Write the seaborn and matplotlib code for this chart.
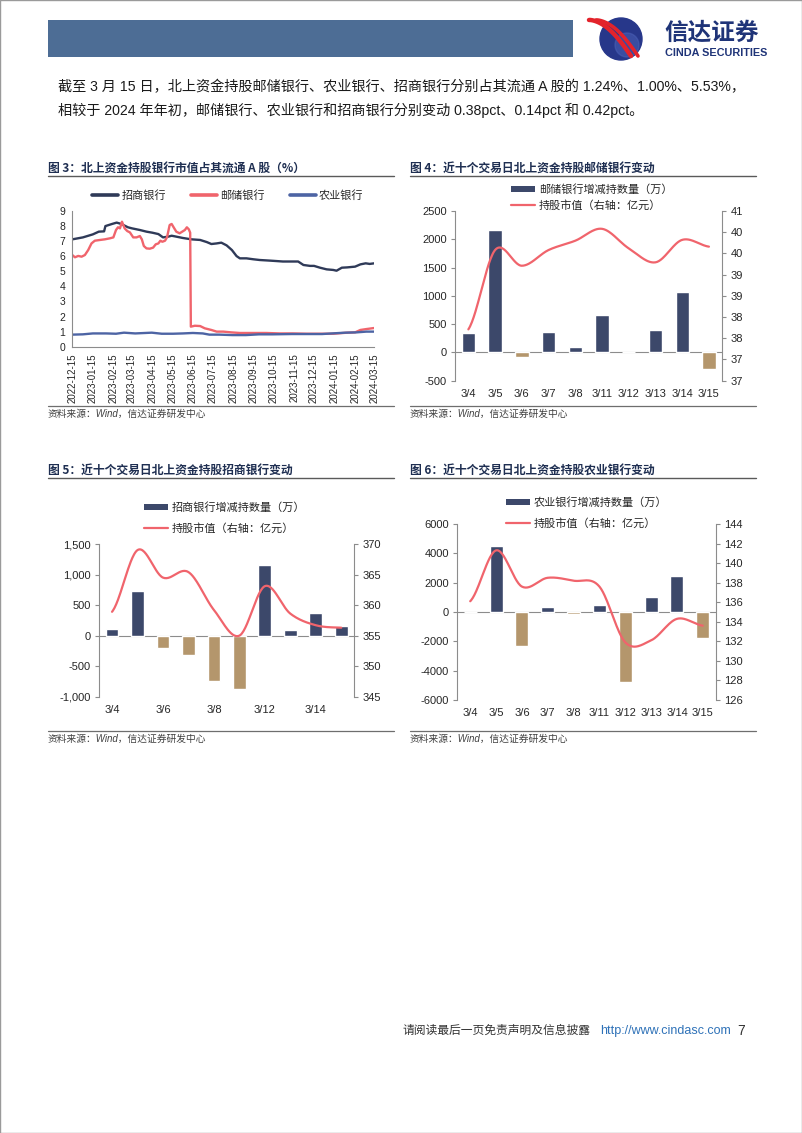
import numpy as np
import pandas as pd
import matplotlib
matplotlib.use("Agg")
import matplotlib.pyplot as plt
from matplotlib.patches import Rectangle, Circle, Patch
from matplotlib.lines import Line2D
import seaborn as sns

sns.set_style("white")
plt.rcParams['font.family'] = ['Liberation Sans', 'Noto Sans CJK SC']
plt.rcParams['axes.unicode_minus'] = False

# ---- 图3 数据：北上资金持股占流通A股比例(%) ----
cmb_dates = ['2022-12-15', '2022-12-31', '2023-01-15', '2023-01-24', '2023-02-01', '2023-02-03', '2023-02-13',
             '2023-02-20', '2023-02-27', '2023-03-09', '2023-03-15', '2023-03-27', '2023-04-06', '2023-04-15',
             '2023-04-24', '2023-05-01', '2023-05-09', '2023-05-14', '2023-05-21', '2023-05-31', '2023-06-13',
             '2023-06-26', '2023-07-06', '2023-07-13', '2023-07-21', '2023-07-28', '2023-08-05', '2023-08-13',
             '2023-08-20', '2023-08-25', '2023-09-04', '2023-09-14', '2023-09-24', '2023-10-09', '2023-10-16',
             '2023-10-29', '2023-11-13', '2023-11-21', '2023-11-29', '2023-12-09', '2023-12-15', '2023-12-24',
             '2024-01-03', '2024-01-13', '2024-01-18', '2024-01-26', '2024-02-03', '2024-02-15', '2024-02-23',
             '2024-03-02', '2024-03-08', '2024-03-15']
cmb_share = [7.12, 7.25, 7.45, 7.63, 7.65, 8.0, 8.14, 8.23, 8.14, 7.92, 7.85, 7.74, 7.63, 7.56, 7.47, 7.25, 7.3,
             7.36, 7.3, 7.21, 7.12, 7.08, 6.94, 6.81, 6.85, 6.9, 6.72, 6.41, 6.01, 5.86, 5.86, 5.8, 5.75, 5.71,
             5.69, 5.65, 5.65, 5.65, 5.42, 5.36, 5.36, 5.24, 5.13, 5.09, 5.04, 5.24, 5.26, 5.31, 5.46, 5.53,
             5.49, 5.53]

psbc_dates = ['2022-12-15', '2022-12-19', '2022-12-24', '2022-12-29', '2023-01-03', '2023-01-08', '2023-01-13',
              '2023-01-18', '2023-01-26', '2023-02-02', '2023-02-10', '2023-02-15', '2023-02-19', '2023-02-22',
              '2023-02-25', '2023-02-28', '2023-03-04', '2023-03-08', '2023-03-12', '2023-03-17', '2023-03-22',
              '2023-03-27', '2023-03-30', '2023-04-02', '2023-04-06', '2023-04-11', '2023-04-16', '2023-04-20',
              '2023-04-24', '2023-04-27', '2023-04-30', '2023-05-04', '2023-05-07', '2023-05-11', '2023-05-14',
              '2023-05-17', '2023-05-21', '2023-05-26', '2023-05-30', '2023-06-03', '2023-06-06', '2023-06-09',
              '2023-06-11', '2023-06-12', '2023-06-18', '2023-06-26', '2023-07-03', '2023-07-13', '2023-07-21',
              '2023-07-31', '2023-08-12', '2023-08-25', '2023-09-14', '2023-10-04', '2023-10-24', '2023-11-13',
              '2023-12-04', '2023-12-24', '2024-01-13', '2024-02-03', '2024-02-15', '2024-02-23', '2024-03-03',
              '2024-03-15']
psbc_share = [6.08, 5.93, 6.02, 5.97, 6.08, 6.41, 6.85, 7.03, 7.08, 7.12, 7.19, 7.25, 7.74, 7.92, 7.85, 8.29,
              7.85, 7.67, 7.58, 7.25, 7.25, 7.34, 7.12, 6.68, 6.52, 6.5, 6.57, 6.79, 6.85, 7.03, 6.96, 7.03, 7.25,
              8.07, 8.14, 7.92, 7.63, 7.52, 7.63, 7.74, 7.92, 7.78, 7.56, 1.33, 1.39, 1.37, 1.22, 1.11, 1.0, 1.0,
              0.95, 0.91, 0.91, 0.91, 0.88, 0.88, 0.86, 0.86, 0.86, 0.93, 0.95, 1.11, 1.17, 1.24]

abc_dates = ['2022-12-15', '2022-12-31', '2023-01-15', '2023-02-04', '2023-02-19', '2023-03-03', '2023-03-20',
             '2023-04-04', '2023-04-14', '2023-04-29', '2023-05-16', '2023-05-31', '2023-06-15', '2023-06-30',
             '2023-07-10', '2023-07-25', '2023-08-14', '2023-09-03', '2023-09-23', '2023-10-13', '2023-11-12',
             '2023-12-02', '2023-12-27', '2024-01-11', '2024-01-31', '2024-02-17', '2024-03-03', '2024-03-15']
abc_share = [0.8, 0.82, 0.88, 0.88, 0.86, 0.93, 0.88, 0.91, 0.93, 0.86, 0.86, 0.88, 0.91, 0.88, 0.8, 0.8, 0.77,
             0.77, 0.82, 0.82, 0.84, 0.84, 0.84, 0.88, 0.93, 0.95, 1.0, 1.0]

date_ticks = ['2022-12-15', '2023-01-15', '2023-02-15', '2023-03-15', '2023-04-15', '2023-05-15', '2023-06-15',
              '2023-07-15', '2023-08-15', '2023-09-15', '2023-10-15', '2023-11-15', '2023-12-15', '2024-01-15',
              '2024-02-15', '2024-03-15']
share_ticks = [0, 1, 2, 3, 4, 5, 6, 7, 8, 9]

# ---- 图4-6 数据：近十个交易日 ----
days = ['3/4', '3/5', '3/6', '3/7', '3/8', '3/11', '3/12', '3/13', '3/14', '3/15']

psbc_chg = [336, 2158, -88, 360, 100, 654, 12, 401, 1073, -300]      # 万股
psbc_mv = [38.21, 40.08, 39.71, 40.08, 40.30, 40.58, 40.12, 39.79, 40.32, 40.16]  # 亿元
psbc_lticks = [-500, 0, 500, 1000, 1500, 2000, 2500]
psbc_rticks = [37, 37.5, 38, 38.5, 39, 39.5, 40, 40.5, 41]
psbc_rlabels = ['37', '37', '38', '38', '39', '39', '40', '40', '41']

cmb_chg = [104, 731, -207, -322, -742, -873, 1151, 87, 365, 164]
cmb_mv = [358.9, 369.0, 364.5, 365.4, 359.2, 355.0, 363.1, 358.6, 356.7, 356.3]
cmb_lticks = [-1000, -500, 0, 500, 1000, 1500]
cmb_llabels = ['-1,000', '-500', '0', '500', '1,000', '1,500']
cmb_rticks = [345, 350, 355, 360, 365, 370]
cmb_xlabels = ['3/4', '', '3/6', '', '3/8', '', '3/12', '', '3/14', '']

abc_chg = [20, 4523, -2295, 364, -114, 455, -4750, 1000, 2455, -1795]
abc_mv = [136.1, 141.3, 137.6, 138.5, 138.2, 137.6, 131.9, 132.1, 134.3, 133.6]
abc_lticks = [-6000, -4000, -2000, 0, 2000, 4000, 6000]
abc_rticks = [126, 128, 130, 132, 134, 136, 138, 140, 142, 144]

NAVY = '#3c486a'
TAN = '#b4966c'
RED = '#f0646c'
CMB_C = '#2f3a58'
ABC_C = '#4d64a4'
GRAY = '#8c8c8c'
TXT = '#262626'
TITLE_C = '#1f2f52'

W, H = 802, 1133
fig = plt.figure(figsize=(W / 100, H / 100), dpi=100)


def fx(px):
    return px / W


def fy(py):
    return 1 - py / H


def smooth(y, n=30):
    # 平滑折线（类似 Excel 的平滑线）
    p = np.r_[y[0], y, y[-1]]
    xs, ys = [], []
    t = np.linspace(0, 1, n, endpoint=False)
    for i in range(len(y) - 1):
        p0, p1, p2, p3 = p[i], p[i + 1], p[i + 2], p[i + 3]
        ys.append(0.5 * (2 * p1 + (p2 - p0) * t + (2 * p0 - 5 * p1 + 4 * p2 - p3) * t ** 2
                         + (3 * p1 - p0 - 3 * p2 + p3) * t ** 3))
        xs.append(i + t)
    xs.append([len(y) - 1])
    ys.append([y[-1]])
    return np.concatenate(xs), np.concatenate(ys)


def style_spine(ax, side):
    for s in ['top', 'right', 'left', 'bottom']:
        ax.spines[s].set_visible(s == side)
    ax.spines[side].set_color(GRAY)
    ax.spines[side].set_linewidth(0.8)


def bar_line(rect, chg, mv, lticks, llabels, rticks, rlabels, xlabels, bar_name, leg_xy, leg_space):
    ax = fig.add_axes(rect)
    df = pd.DataFrame({'day': days, 'chg': chg})
    df['sign'] = np.where(df['chg'] >= 0, 'up', 'down')
    sns.barplot(data=df, x='day', y='chg', hue='sign', palette={'up': NAVY, 'down': TAN},
                dodge=False, width=0.5, saturation=1, legend=False, ax=ax)
    ax.axhline(0, color=GRAY, lw=0.8, zorder=0)
    ax.set_xlim(-0.5, len(days) - 0.5)
    ax.set_ylim(lticks[0], lticks[-1])
    ax.set_yticks(lticks)
    ax.set_yticklabels(llabels if llabels else [str(v) for v in lticks])
    ax.set_xticks(range(len(days)))
    ax.set_xticklabels(xlabels)
    ax.set_xlabel('')
    ax.set_ylabel('')
    style_spine(ax, 'left')
    ax.tick_params(axis='y', length=3, width=0.8, color=GRAY, labelsize=8, labelcolor=TXT, pad=3)
    ax.tick_params(axis='x', length=0, labelsize=8, labelcolor=TXT, pad=6)

    ax2 = ax.twinx()
    xs, ys = smooth(mv)
    sns.lineplot(x=xs, y=ys, color=RED, lw=1.6, ax=ax2)
    ax2.set_ylim(rticks[0], rticks[-1])
    ax2.set_yticks(rticks)
    ax2.set_yticklabels(rlabels if rlabels else [str(v) for v in rticks])
    style_spine(ax2, 'right')
    ax2.tick_params(axis='y', length=3, width=0.8, color=GRAY, labelsize=8, labelcolor=TXT, pad=3)

    handles = [Patch(facecolor=NAVY, edgecolor='none'), Line2D([], [], color=RED, lw=1.6)]
    ax2.legend(handles, [bar_name, '持股市值（右轴：亿元）'], loc='upper left',
               bbox_to_anchor=leg_xy, bbox_transform=fig.transFigure, frameon=False, fontsize=8,
               handlelength=2.2, handleheight=0.45, handletextpad=0.3, labelspacing=leg_space,
               borderpad=0, borderaxespad=0)
    return ax, ax2


# ---- 页眉 ----
fig.add_artist(Rectangle((0, 0), 1, 1, transform=fig.transFigure, fill=False, edgecolor='#9a9a9a', lw=1))
fig.add_artist(Rectangle((fx(48), fy(57)), fx(573) - fx(48), 37 / H, transform=fig.transFigure,
                         facecolor='#4d6d95', edgecolor='none'))
# 标志（示意）
lax = fig.add_axes([fx(583), fy(62), fx(72), 47 / H])
lax.set_xlim(0, 72)
lax.set_ylim(47, 0)
lax.set_aspect('equal')
lax.axis('off')
lax.add_patch(Circle((38, 24), 21, color='#27378a'))
lax.add_patch(Circle((44, 30), 12, color='#4a60b5', alpha=0.55))
tt = np.linspace(0, 1, 80)
for dx, lw in ((0, 3.2), (7, 2.6)):
    lax.plot(6 + dx + 42 * tt, 5 + 36 * tt ** 1.25 - 5 * np.sin(np.pi * tt), color='#e3232b',
             lw=lw, solid_capstyle='round')
fig.text(fx(664), fy(33), '信达证券', fontsize=17, fontweight='bold', color='#1f3478',
         family=['Noto Sans CJK SC'], va='center', ha='left')
fig.text(fx(665), fy(53), 'CINDA SECURITIES', fontsize=7.8, fontweight='bold', color='#1f3478',
         va='center', ha='left')

fig.text(fx(58), fy(87), '截至 3 月 15 日，北上资金持股邮储银行、农业银行、招商银行分别占其流通 A 股的 1.24%、1.00%、5.53%，',
         fontsize=10.2, color='#1a1a1a', va='center', ha='left')
fig.text(fx(58), fy(110), '相较于 2024 年年初，邮储银行、农业银行和招商银行分别变动 0.38pct、0.14pct 和 0.42pct。',
         fontsize=10.2, color='#1a1a1a', va='center', ha='left')

# ---- 标题、分隔线与来源 ----
titles = [(48, 168, '图 3：北上资金持股银行市值占其流通 A 股（%）'),
          (410, 168, '图 4：近十个交易日北上资金持股邮储银行变动'),
          (48, 470, '图 5：近十个交易日北上资金持股招商银行变动'),
          (410, 470, '图 6：近十个交易日北上资金持股农业银行变动')]
for x0, y0, txt in titles:
    fig.text(fx(x0), fy(y0), txt, fontsize=8.5, fontweight='bold', color=TITLE_C,
             family=['Noto Sans CJK SC'], va='center', ha='left')
    fig.add_artist(Line2D([fx(x0), fx(x0 + 346)], [fy(y0 + 8)] * 2, color='#5a5a5a', lw=1))
for x0, y0 in [(48, 406), (410, 406), (48, 731), (410, 731)]:
    fig.add_artist(Line2D([fx(x0), fx(x0 + 346)], [fy(y0)] * 2, color='#6e6e6e', lw=0.9))
    fig.text(fx(x0), fy(y0 + 8), '资料来源：Wind，信达证券研发中心', fontsize=7, style='italic',
             color='#404040', va='center', ha='left')

# ---- 图3 ----
ax3 = fig.add_axes([fx(72.3), fy(346.7), (374.3 - 72.3) / W, (346.7 - 211) / H])
frames = []
for name, d, v in [('招商银行', cmb_dates, cmb_share), ('邮储银行', psbc_dates, psbc_share),
                   ('农业银行', abc_dates, abc_share)]:
    frames.append(pd.DataFrame({'date': pd.to_datetime(d), 'share': v, 'bank': name}))
df3 = pd.concat(frames, ignore_index=True)
pal3 = {'招商银行': CMB_C, '邮储银行': RED, '农业银行': ABC_C}
sns.lineplot(data=df3, x='date', y='share', hue='bank', palette=pal3, lw=1.7, legend=False, ax=ax3)
ax3.set_ylim(share_ticks[0], share_ticks[-1])
ax3.set_yticks(share_ticks)
ax3.set_xlim(pd.Timestamp(date_ticks[0]), pd.Timestamp(date_ticks[-1]))
ax3.set_xticks(pd.to_datetime(date_ticks))
ax3.set_xticklabels(date_ticks, rotation=90)
ax3.set_xlabel('')
ax3.set_ylabel('')
for s in ['top', 'right']:
    ax3.spines[s].set_visible(False)
for s in ['left', 'bottom']:
    ax3.spines[s].set_color(GRAY)
    ax3.spines[s].set_linewidth(0.8)
ax3.tick_params(axis='y', length=3, width=0.8, color=GRAY, labelsize=7.5, labelcolor=TXT, pad=2)
ax3.tick_params(axis='x', length=3, width=0.8, color=GRAY, labelsize=7, labelcolor=TXT, pad=2)
h3 = [Line2D([], [], color=pal3[k], lw=2.6) for k in pal3]
ax3.legend(h3, list(pal3), ncol=3, loc='center', bbox_to_anchor=(fx(228), fy(196)),
           bbox_transform=fig.transFigure, frameon=False, fontsize=8, handlelength=2.3,
           handletextpad=0.3, columnspacing=2.3, borderpad=0)

# ---- 图4 ----
bar_line([fx(455), fy(380.7), (722.3 - 455) / W, (380.7 - 211) / H], psbc_chg, psbc_mv,
         psbc_lticks, None, psbc_rticks, psbc_rlabels, days, '邮储银行增减持数量（万）',
         (fx(511), fy(184)), 0.48)

# ---- 图5 ----
bar_line([fx(99.3), fy(696.7), (354 - 99.3) / W, (696.7 - 544) / H], cmb_chg, cmb_mv,
         cmb_lticks, cmb_llabels, cmb_rticks, None, cmb_xlabels, '招商银行增减持数量（万）',
         (fx(144), fy(502)), 0.9)

# ---- 图6 ----
bar_line([fx(457.3), fy(700), (715.7 - 457.3) / W, (700 - 524) / H], abc_chg, abc_mv,
         abc_lticks, None, abc_rticks, None, days, '农业银行增减持数量（万）',
         (fx(506), fy(497)), 0.9)

# ---- 页脚 ----
fig.text(fx(403), fy(1031), '请阅读最后一页免责声明及信息披露', fontsize=8.5, color='#333333', va='center', ha='left')
fig.text(fx(600), fy(1031), 'http://www.cindasc.com', fontsize=9, color='#2f72b8', va='center', ha='left')
fig.text(fx(737), fy(1031), '7', fontsize=10, color='#333333', va='center', ha='left')

fig.savefig('out.png', dpi=100)
